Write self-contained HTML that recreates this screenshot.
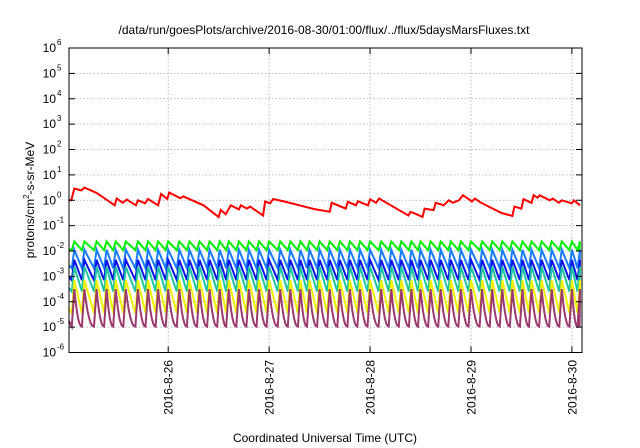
<!DOCTYPE html>
<html><head><meta charset="utf-8"><style>
html,body{margin:0;padding:0;background:#fff}
svg{display:block;font-family:"Liberation Sans",sans-serif}
</style></head><body>
<svg id="chart" width="640" height="448" viewBox="0 0 640 448" xmlns="http://www.w3.org/2000/svg">
<text x="324" y="34" font-size="12" text-anchor="middle">/data/run/goesPlots/archive/2016-08-30/01:00/flux/../flux/5daysMarsFluxes.txt</text>
<g id="grid"></g>
<g id="series"></g>
<rect x="69" y="48" width="513" height="304.5" fill="none" stroke="#000" stroke-width="1"/>
<g id="yticks"></g>
<g id="xticks"></g>
<text transform="translate(34,200) rotate(-90)" font-size="12" text-anchor="middle">protons/cm<tspan font-size="8" dy="-5">2</tspan><tspan dy="5">-s-sr-MeV</tspan></text>
<text x="325" y="442" font-size="12" text-anchor="middle">Coordinated Universal Time (UTC)</text>
</svg>
<script>
const yExponents = [-6,-5,-4,-3,-2,-1,0,1,2,3,4,5,6];
const xTickDays = [26,27,28,29,30];
const xTickLabels = ["2016-8-26","2016-8-27","2016-8-28","2016-8-29","2016-8-30"];
const eventTimes = [25.07,25.17,25.29,25.39,25.48,25.58,25.70,25.80,25.90,26.00,26.11,26.21,26.31,26.41,26.51,26.60,26.70,26.80,26.90,27.00,27.11,27.21,27.31,27.40,27.50,27.60,27.70,27.80,27.90,28.00,28.11,28.21,28.31,28.41,28.50,28.60,28.70,28.80,28.90,29.00,29.11,29.21,29.31,29.41,29.51,29.60,29.70,29.80,29.90,30.00,30.08];
const seriesNames = ["green","dodgerblue","blue","teal","yellow","purple"];
const seriesColors = ["#00ee00","#1a7cff","#0a14e8","#1ec7a0","#f0f000","#9a3a6e"];
const seriesPeaks = [-1.62,-1.95,-2.35,-2.62,-3.15,-3.5];
const seriesTroughs = [-1.97,-2.68,-3.15,-3.6,-4.45,-4.98];
const redTimes = [25.01,25.04,25.07,25.14,25.17,25.29,25.47,25.49,25.55,25.59,25.68,25.70,25.77,25.80,25.90,25.93,25.99,26.01,26.12,26.15,26.35,26.50,26.52,26.57,26.62,26.70,26.72,26.78,26.81,26.94,26.96,27.01,27.04,27.15,27.30,27.45,27.60,27.62,27.76,27.78,27.86,27.88,27.98,28.00,28.06,28.09,28.38,28.40,28.46,28.52,28.54,28.63,28.65,28.73,28.78,28.82,28.88,28.92,29.01,29.04,29.10,29.30,29.41,29.43,29.50,29.52,29.60,29.62,29.66,29.68,29.78,29.81,29.87,29.90,30.00,30.02,30.08];
const redValues = [0.0,0.0,0.46,0.39,0.5,0.29,-0.2,0.07,-0.1,0.03,-0.2,0.0,-0.12,0.05,-0.2,0.25,0.05,0.3,0.08,0.15,-0.2,-0.66,-0.38,-0.55,-0.2,-0.36,-0.2,-0.33,-0.25,-0.6,-0.05,-0.12,0.05,-0.05,-0.2,-0.35,-0.45,-0.1,-0.33,-0.06,-0.2,-0.04,-0.2,0.04,-0.1,0.07,-0.6,-0.46,-0.55,-0.66,-0.33,-0.39,-0.1,-0.2,0.0,-0.1,0.0,0.2,-0.05,0.07,-0.1,-0.5,-0.62,-0.25,-0.33,0.04,-0.1,0.2,0.1,0.2,0.0,0.07,-0.1,0.0,-0.12,0.0,-0.2];

const L=69,R=582,T=48,B=352.5, d0=25.017, d1=30.1;
const xs = d => L + (d-d0)/(d1-d0)*(R-L);
const ys = lg => B - (lg+6)/12*(B-T);
const NS='http://www.w3.org/2000/svg';
function mk(tag,attrs,parent){const e=document.createElementNS(NS,tag);for(const k in attrs)e.setAttribute(k,attrs[k]);parent.appendChild(e);return e;}
const grid=document.getElementById('grid'), yt=document.getElementById('yticks'), xt=document.getElementById('xticks'), sg=document.getElementById('series');

yExponents.forEach(ex=>{
  const y=ys(ex);
  if(ex>-6&&ex<6){const g=mk('line',{x1:L,x2:R,y1:y,y2:y,stroke:'#aaa','stroke-width':0.8,'stroke-dasharray':'1.5,2'},grid);
  
  }
  const t1=mk('line',{x1:L,x2:L+6,y1:y,y2:y,stroke:'#000'},yt);
  
  
  const t2=mk('line',{x1:R-6,x2:R,y1:y,y2:y,stroke:'#000'},yt);
  
  
  const tx=mk('text',{x:56,y:y+4,'font-size':12,'text-anchor':'end'},yt);
  
  
  tx.textContent='10';
  const sp=mk('tspan',{x:57,y:y-3,'font-size':8,'text-anchor':'start'},tx);
  sp.textContent=String(ex);
});
xTickDays.forEach((d,i)=>{
  const x=xs(d);
  const g=mk('line',{x1:x,x2:x,y1:T,y2:B,stroke:'#aaa','stroke-width':0.8,'stroke-dasharray':'1.5,2'},grid);
  
  
  const t1=mk('line',{x1:x,x2:x,y1:B-6,y2:B,stroke:'#000'},xt);
  
  
  const t2=mk('line',{x1:x,x2:x,y1:T,y2:T+6,stroke:'#000'},xt);
  
  
  const tx=mk('text',{transform:`translate(${x+4.5},360) rotate(-90)`,'font-size':12,'text-anchor':'end'},xt);
  
  
  tx.textContent=xTickLabels[i];
});

const rise=0.025;
seriesNames.forEach((nm,si)=>{
  const pk=seriesPeaks[si], tr=seriesTroughs[si], curvy=(nm==='purple');
  const pts=[[xs(d0),ys(tr+(pk-tr)*0.15)]];
  for(let i=0;i<eventTimes.length;i++){
    const t0=eventTimes[i], t1=i+1<eventTimes.length?eventTimes[i+1]:d1;
    pts.push([xs(Math.max(d0,t0-rise)),ys(tr)]);
    const steps=curvy?6:1;
    for(let k=0;k<=steps;k++){
      const f=k/steps, tt=t0+(t1-rise-t0)*f;
      const frac=curvy?Math.pow(1-f,2.2):(1-f);
      pts.push([xs(Math.min(tt,d1)),ys(tr+(pk-tr)*frac)]);
    }
  }
  const p=mk('polyline',{points:pts.map(p=>p[0].toFixed(1)+','+p[1].toFixed(1)).join(' '),fill:'none',stroke:seriesColors[si],'stroke-width':2,'stroke-linejoin':'miter'},sg);
  
  
});
const rp=mk('polyline',{points:redTimes.map((t,i)=>xs(t).toFixed(1)+','+ys(redValues[i]).toFixed(1)).join(' '),fill:'none',stroke:'#ff0000','stroke-width':2},sg);


</script>
</body></html>
